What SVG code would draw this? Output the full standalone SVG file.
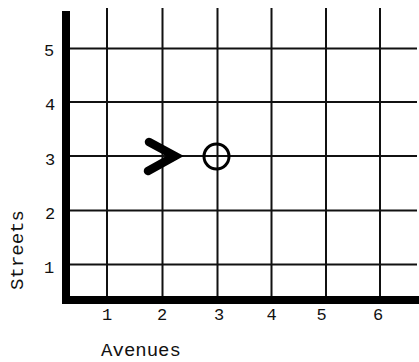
<svg xmlns="http://www.w3.org/2000/svg" width="419" height="362" viewBox="0 0 419 362">
<style>
.grid{stroke:#111;stroke-width:2;fill:none}
.axis{stroke:#000;stroke-width:8;fill:none}
.lbl{font-family:"Liberation Mono","Courier New",monospace;font-size:17px;fill:#111;text-anchor:middle}
.title{font-family:"Liberation Mono","Courier New",monospace;font-size:19px;fill:#111;text-anchor:middle}
</style>
<rect width="419" height="362" fill="#fff"/>
<g id="connectors">
<g id="grid-vertical" class="grid">
<line x1="107" y1="8" x2="107" y2="298"/>
<line x1="162.5" y1="8" x2="162.5" y2="298"/>
<line x1="217.5" y1="8" x2="217.5" y2="298"/>
<line x1="271.5" y1="8" x2="271.5" y2="298"/>
<line x1="326" y1="8" x2="326" y2="298"/>
<line x1="380" y1="8" x2="380" y2="298"/>
</g>
<g id="grid-horizontal" class="grid">
<line x1="70" y1="48.5" x2="417" y2="48.5"/>
<line x1="70" y1="102" x2="417" y2="102"/>
<line x1="70" y1="156" x2="417" y2="156"/>
<line x1="70" y1="210.5" x2="417" y2="210.5"/>
<line x1="70" y1="264.5" x2="417" y2="264.5"/>
</g>
<path id="axes" class="axis" d="M66 11 V300 H419"/>
</g>
<g id="y-labels" class="lbl">
<text x="49" y="56">5</text>
<text x="50" y="110">4</text>
<text x="50" y="165">3</text>
<text x="50" y="219">2</text>
<text x="49" y="273">1</text>
</g>
<g id="x-labels" class="lbl">
<text x="107" y="320">1</text>
<text x="162" y="320">2</text>
<text x="219" y="320">3</text>
<text x="271.5" y="320">4</text>
<text x="321.5" y="320">5</text>
<text x="378" y="320">6</text>
</g>
<g id="avenues-title"><text class="title" x="141" y="356">Avenues</text></g>
<g id="streets-title"><text class="title" transform="translate(23 250) rotate(-90)">Streets</text></g>
<g id="chevron"><path d="M149 142 L175 156 L148 171" fill="none" stroke="#000" stroke-width="8.5" stroke-linejoin="miter" stroke-linecap="round"/></g>
<g id="circle"><circle cx="216.5" cy="156.5" r="12.5" fill="none" stroke="#000" stroke-width="3"/></g>
</svg>
